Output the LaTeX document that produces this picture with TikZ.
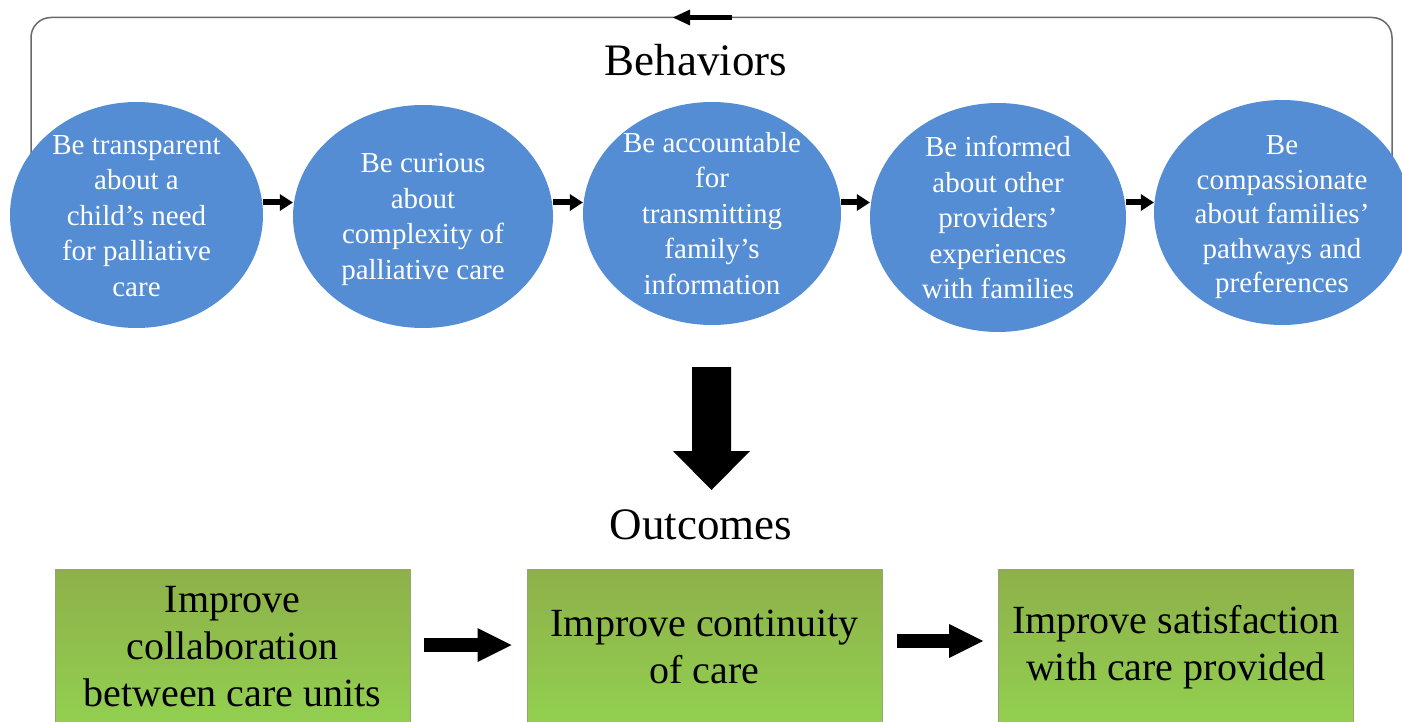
\documentclass[tikz,border=0pt]{standalone}
\usepackage{fontspec}
\setmainfont{Liberation Serif}
\usetikzlibrary{shapes.geometric,arrows.meta}
\definecolor{ellblue}{RGB}{85,141,212}
\definecolor{boxtop}{RGB}{142,176,74}
\definecolor{boxbot}{RGB}{146,208,80}
\definecolor{boxline}{RGB}{150,165,120}
\definecolor{fbgray}{RGB}{105,105,105}
\tikzset{
  behav/.style={ellipse, fill=ellblue, draw=none, inner sep=0pt},
  btext/.style={text=white, align=center, font=\fontsize{29}{35.5}\selectfont, inner sep=0pt},
  outbox/.style={rectangle, minimum width=355pt, minimum height=156pt, top color=boxtop, bottom color=boxbot, draw=boxline, line width=1pt, align=center, font=\fontsize{40}{47}\selectfont, inner sep=0pt},
  smallarrow/.style={line width=6pt, -{Triangle[length=13pt,width=17pt,line width=0pt]}},
  bigarrow/.style={line width=14pt, -{Triangle[length=34pt,width=34pt,line width=0pt]}},
  toparrow/.style={line width=5pt, -{Triangle[length=17pt,width=16pt,line width=0pt]}},
  fbline/.style={draw=fbgray, line width=1.5pt, rounded corners=20pt},
  titletext/.style={font=\fontsize{45}{54}\selectfont, inner sep=0pt},
}
\begin{document}
\begin{tikzpicture}[x=1pt,y=-1pt]
\useasboundingbox (0,0) rectangle (1402,722);
\clip (0,0) rectangle (1402,722);

% feedback loop line (drawn first so the ellipses cover its ends)
\coordinate (fbL) at (31,215);
\coordinate (fbTL) at (31,17.5);
\coordinate (fbTR) at (1392,17.5);
\coordinate (fbR) at (1392,213);
\draw[fbline] (fbR) -- (fbTR) -- (fbTL) -- (fbL);
\coordinate (ta1) at (732,17.5);
\coordinate (ta2) at (673,17.5);
\draw[toparrow] (ta1) -- (ta2);

% titles
\node[titletext] (beh) at (696,60) {Behaviors};
\node[titletext] (out) at (701,525) {Outcomes};

% behaviour ellipses
\node[behav, minimum width=253pt, minimum height=226pt] (e1) at (136.5,215) {};
\node[behav, minimum width=260pt, minimum height=223pt] (e2) at (423,216.5) {};
\node[behav, minimum width=258pt, minimum height=223pt] (e3) at (712,213.5) {};
\node[behav, minimum width=256pt, minimum height=229pt] (e4) at (998,217.5) {};
\node[behav, minimum width=256pt, minimum height=225pt] (e5) at (1282,212.5) {};

\node[btext] (e1t) at ([yshift=-1pt]e1) {Be transparent\\about a\\child’s need\\for palliative\\care};
\node[btext] (e2t) at ([yshift=-3pt]e2) {Be curious\\about\\complexity of\\palliative care};
\node[btext] (e3t) at (e3) {Be accountable\\for\\transmitting\\family’s\\information};
\node[btext] (e4t) at (e4) {Be informed\\about other\\providers’\\experiences\\with families};
\node[btext, font=\fontsize{29}{34.5}\selectfont] (e5t) at ([yshift=-5pt]e5) {Be\\compassionate\\about families’\\pathways and\\preferences};

\coordinate (ay) at (0,202.5);
\draw[smallarrow] (e1.east |- ay) -- (e2.west |- ay);
\draw[smallarrow] (e2.east |- ay) -- (e3.west |- ay);
\draw[smallarrow] (e3.east |- ay) -- (e4.west |- ay);
\draw[smallarrow] (e4.east |- ay) -- (e5.west |- ay);

% big down arrow
\fill[black] (692,367) -- (731,367) -- (731,451) -- (750,451) -- (711.5,490) -- (673,451) -- (692,451) -- cycle;

% outcome boxes
\node[outbox] (b1) at (232.5,647) {Improve\\collaboration\\between care units};
\node[outbox] (b2) at (704.5,647) {Improve continuity\\of care};
\node[outbox] (b3) at (1176,647) {Improve satisfaction\\with care provided};

\draw[bigarrow] ([xshift=13pt,yshift=2pt]b1.east) -- ([xshift=-15pt,yshift=2pt]b2.west);
\draw[bigarrow] ([xshift=14pt,yshift=6pt]b2.east) -- ([xshift=-15pt,yshift=6pt]b3.west);
\end{tikzpicture}
\end{document}
